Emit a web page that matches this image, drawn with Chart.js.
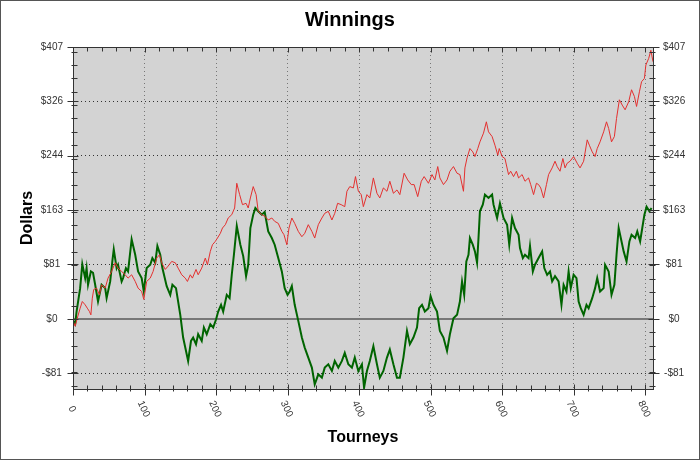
<!DOCTYPE html>
<html>
<head>
<meta charset="utf-8">
<script src="https://cdn.jsdelivr.net/npm/chart.js@4"></script>
<style>
  html, body { margin: 0; padding: 0; background: #fff; }
</style>
</head>
<body>
<canvas id="myChart" width="700" height="460"></canvas>
<script>
const FONT = '"Liberation Sans", Arial, sans-serif';

// axis ticks
const yTickValues = [-81.4, 0, 81.4, 162.8, 244.2, 325.6, 407];
const yTickLabels = ['-$81', '$0', '$81', '$163', '$244', '$326', '$407'];
const xTickValues = [0, 100, 200, 300, 400, 500, 600, 700, 800];
const xTickLabels = ['0', '100', '200', '300', '400', '500', '600', '700', '800'];
const minorStep = 20;

// red series (thin line)
const redTourneys = [0, 3, 6, 10, 13, 17, 20, 23, 25, 27, 29, 33, 37, 40, 45, 49, 54, 59, 63, 68,
  73, 77, 82, 87, 91, 96, 99, 103, 108, 112, 117, 121, 124, 129, 133, 138, 143, 147, 152, 157,
  160, 164, 167, 172, 175, 180, 185, 188, 192, 195, 199, 202, 206, 209, 213, 217, 222, 226, 229, 233,
  237, 242, 245, 248, 252, 256, 259, 264, 269, 273, 278, 282, 287, 292, 295, 299, 302, 306, 310, 315,
  320, 324, 329, 334, 338, 343, 348, 352, 357, 362, 366, 370, 375, 380, 383, 387, 392, 395, 399, 403,
  406, 411, 415, 420, 425, 429, 434, 439, 443, 448, 453, 457, 463, 468, 473, 477, 482, 487, 491, 497,
  502, 506, 510, 513, 518, 523, 527, 532, 537, 541, 546, 548, 551, 555, 559, 562, 566, 569, 574, 578,
  581, 586, 590, 594, 596, 600, 604, 609, 612, 616, 620, 623, 628, 632, 637, 640, 644, 648, 651, 654,
  658, 662, 665, 670, 674, 677, 681, 685, 688, 691, 695, 700, 705, 709, 714, 719, 722, 726, 730, 733,
  737, 742, 746, 749, 753, 757, 760, 764, 768, 772, 777, 781, 785, 788, 792, 795, 799, 801, 805, 808, 811];
const redDollars = [-3, -11, 1, 16, 26, 21, 16, 11, 6, 31, 44, 46, 36, 51, 46, 61, 71, 84, 76, 71,
  66, 61, 66, 56, 46, 41, 29, 56, 61, 71, 91, 96, 84, 74, 79, 86, 84, 76, 66, 61,
  56, 66, 61, 74, 66, 76, 91, 81, 101, 111, 116, 121, 128, 136, 141, 151, 156, 166, 203, 186,
  171, 173, 166, 181, 198, 186, 161, 156, 153, 148, 151, 146, 143, 131, 126, 111, 136, 151, 143, 131,
  123, 128, 141, 131, 121, 141, 151, 158, 161, 148, 158, 173, 171, 168, 191, 198, 196, 213, 191, 186,
  168, 186, 181, 211, 188, 181, 196, 191, 206, 188, 193, 186, 218, 208, 201, 201, 183, 206, 213, 203,
  216, 208, 228, 211, 201, 208, 221, 228, 218, 216, 191, 226, 241, 255, 250, 243, 255, 265, 278, 295,
  280, 273, 260, 245, 255, 243, 240, 216, 221, 213, 221, 211, 216, 206, 211, 201, 186, 203, 201, 196,
  181, 201, 216, 226, 236, 228, 221, 240, 226, 233, 236, 243, 233, 226, 236, 268, 260, 250, 243, 255,
  265, 280, 295, 285, 265, 273, 300, 328, 320, 313, 325, 343, 333, 318, 340, 355, 360, 380, 390, 402, 385];

// green series (thick line)
const greenTourneys = [0, 3, 5, 10, 13, 17, 19, 21, 25, 28, 31, 35, 40, 45, 47, 52, 55, 57, 61, 63,
  68, 70, 74, 77, 82, 87, 91, 96, 99, 103, 108, 111, 115, 118, 122, 125, 131, 136, 139, 144,
  150, 154, 159, 161, 165, 168, 172, 175, 180, 183, 187, 192, 196, 200, 203, 207, 210, 215, 219, 222,
  225, 229, 234, 238, 242, 245, 248, 252, 255, 259, 264, 268, 273, 278, 282, 287, 292, 296, 300, 303,
  306, 310, 315, 320, 324, 329, 334, 338, 343, 348, 352, 357, 362, 366, 371, 376, 380, 385, 390, 394,
  399, 404, 407, 411, 415, 420, 425, 429, 434, 439, 443, 448, 453, 457, 462, 467, 471, 476, 481, 484,
  488, 492, 497, 500, 504, 509, 513, 518, 523, 527, 532, 537, 541, 544, 547, 550, 553, 555, 559, 562,
  565, 567, 569, 573, 576, 581, 586, 588, 593, 597, 602, 607, 610, 614, 618, 623, 625, 629, 632, 637,
  639, 643, 646, 651, 656, 659, 663, 667, 670, 674, 679, 683, 686, 690, 693, 696, 700, 704, 707, 710,
  714, 718, 721, 726, 730, 733, 737, 742, 744, 749, 753, 757, 760, 763, 765, 770, 774, 778, 781, 786,
  789, 793, 796, 799, 802, 806, 809];
const greenDollars = [-3, -8, 11, 46, 82, 61, 76, 51, 71, 69, 51, 26, 51, 46, 31, 56, 86, 104, 76, 81,
  56, 61, 76, 71, 119, 96, 71, 61, 41, 76, 81, 91, 84, 109, 96, 76, 49, 36, 51, 46,
  6, -28, -53, -63, -33, -28, -38, -23, -33, -13, -23, -8, -13, -1, 11, 21, 11, 36, 31, 66,
  96, 139, 111, 94, 64, 81, 136, 156, 166, 161, 156, 160, 131, 121, 111, 91, 71, 46, 36, 41,
  49, 21, -3, -28, -43, -58, -73, -98, -83, -88, -73, -68, -78, -63, -73, -63, -51, -68, -73, -58,
  -78, -68, -103, -78, -63, -41, -68, -88, -78, -58, -46, -68, -88, -88, -58, -18, -38, -28, -13, 16,
  21, 11, 16, 34, 21, 11, -18, -28, -48, -23, 1, 6, 26, 56, 36, 86, 96, 121, 111, 101,
  84, 121, 161, 171, 186, 181, 186, 171, 151, 173, 151, 141, 111, 151, 136, 126, 106, 91, 96, 91,
  109, 71, 81, 91, 101, 76, 66, 71, 56, 64, 56, 21, 51, 41, 71, 46, 66, 61, 26, 16,
  6, 21, 16, 31, 46, 61, 41, 46, 81, 71, 36, 51, 96, 136, 126, 101, 86, 116, 126, 121,
  131, 116, 136, 156, 168, 161, 166];

function toPoints(xs, ys) {
  return xs.map((x, i) => ({ x: x, y: ys[i] }));
}

const decor = {
  id: 'decor',
  beforeDraw(chart) {
    const { ctx, chartArea: a } = chart;
    ctx.save();
    ctx.fillStyle = '#fff';
    ctx.fillRect(0, 0, chart.width, chart.height);
    ctx.fillStyle = '#d3d3d3';
    ctx.fillRect(a.left, a.top, a.right - a.left, a.bottom - a.top);
    ctx.restore();
  },
  beforeDatasetsDraw(chart) {
    const { ctx, chartArea: a, scales: { y } } = chart;
    const py = Math.round(y.getPixelForValue(0));
    ctx.save();
    ctx.strokeStyle = '#777';
    ctx.lineWidth = 2;
    ctx.beginPath();
    ctx.moveTo(a.left, py);
    ctx.lineTo(a.right, py);
    ctx.stroke();
    ctx.restore();
  },
  afterDraw(chart) {
    const { ctx, chartArea: a, scales: { x, y } } = chart;
    ctx.save();
    ctx.strokeStyle = '#333';
    ctx.lineWidth = 1;
    const L = Math.round(a.left) + 0.5, R = Math.round(a.right) + 0.5;
    const T = Math.round(a.top) + 0.5, B = Math.round(a.bottom) + 0.5;
    ctx.strokeRect(L, T, R - L, B - T);

    ctx.beginPath();
    // minor ticks
    for (let v = Math.ceil(y.min / minorStep) * minorStep; v <= y.max; v += minorStep) {
      const py = Math.round(y.getPixelForValue(v)) + 0.5;
      ctx.moveTo(L - 2, py); ctx.lineTo(L + 4, py);
      ctx.moveTo(R - 4, py); ctx.lineTo(R + 2, py);
    }
    for (let v = 0; v <= x.max; v += minorStep) {
      const px = Math.round(x.getPixelForValue(v)) + 0.5;
      ctx.moveTo(px, B + 2); ctx.lineTo(px, B - 4);
      ctx.moveTo(px, T); ctx.lineTo(px, T + 4);
    }
    // major ticks
    yTickValues.forEach(v => {
      const py = Math.round(y.getPixelForValue(v)) + 0.5;
      ctx.moveTo(L - 6, py); ctx.lineTo(L + 5, py);
      ctx.moveTo(R - 5, py); ctx.lineTo(R + 6, py);
    });
    xTickValues.forEach(v => {
      const px = Math.round(x.getPixelForValue(v)) + 0.5;
      ctx.moveTo(px, B + 6); ctx.lineTo(px, B - 5);
      ctx.moveTo(px, T); ctx.lineTo(px, T + 5);
    });
    ctx.stroke();

    // rotated x labels
    ctx.fillStyle = '#333';
    ctx.font = '10px ' + FONT;
    ctx.textAlign = 'center';
    ctx.textBaseline = 'middle';
    xTickValues.forEach((v, i) => {
      const px = x.getPixelForValue(v);
      ctx.save();
      ctx.translate(px - 1, 409);
      ctx.rotate(65 * Math.PI / 180);
      ctx.fillText(xTickLabels[i], 0, 0);
      ctx.restore();
    });

    // outer border
    ctx.strokeStyle = '#555';
    ctx.strokeRect(0.5, 0.5, chart.width - 1, chart.height - 1);
    ctx.restore();
  }
};

const yTicksOpts = {
  callback: (v, i) => yTickLabels[i],
  crossAlign: 'center',
  padding: 10,
  color: '#333',
  font: { size: 10, family: FONT }
};

Chart.defaults.font.family = FONT;

new Chart(document.getElementById('myChart'), {
  type: 'line',
  data: {
    datasets: [
      {
        label: 'red',
        data: toPoints(redTourneys, redDollars),
        borderColor: '#e4302f',
        borderWidth: 1,
        pointRadius: 0,
        tension: 0
      },
      {
        label: 'green',
        data: toPoints(greenTourneys, greenDollars),
        borderColor: '#006400',
        borderWidth: 2,
        pointRadius: 0,
        tension: 0
      }
    ]
  },
  options: {
    responsive: false,
    animation: false,
    devicePixelRatio: 1,
    layout: { padding: 0 },
    plugins: {
      legend: { display: false },
      tooltip: { enabled: false },
      title: {
        display: true,
        text: 'Winnings',
        color: '#000',
        font: { size: 20, weight: 'bold', family: FONT },
        padding: { top: 8, bottom: 15 }
      }
    },
    scales: {
      x: {
        type: 'linear',
        min: 0,
        max: 811,
        afterBuildTicks: s => { s.ticks = xTickValues.map(v => ({ value: v })); },
        afterFit: s => { s.height = 71; },
        ticks: { display: false },
        grid: { color: '#777', drawTicks: false },
        border: { display: false, dash: [1, 3] },
        title: {
          display: true, text: 'Tourneys', color: '#000',
          font: { size: 16, weight: 'bold', family: FONT },
          padding: { top: 0, bottom: 13 }
        }
      },
      y: {
        position: 'left',
        min: -105,
        max: 407,
        afterBuildTicks: s => { s.ticks = yTickValues.map(v => ({ value: v })); },
        afterFit: s => { s.width = 73; },
        ticks: yTicksOpts,
        grid: { color: '#333', drawTicks: false },
        border: { display: false, dash: [1, 3] },
        title: {
          display: true, text: 'Dollars', color: '#000',
          font: { size: 16, weight: 'bold', family: FONT },
          padding: { top: 18, bottom: 0 }
        }
      },
      y2: {
        position: 'right',
        min: -105,
        max: 407,
        afterBuildTicks: s => { s.ticks = yTickValues.map(v => ({ value: v })); },
        afterFit: s => { s.width = 47; },
        ticks: yTicksOpts,
        grid: { drawOnChartArea: false, drawTicks: false },
        border: { display: false }
      }
    }
  },
  plugins: [decor]
});
</script>
</body>
</html>
